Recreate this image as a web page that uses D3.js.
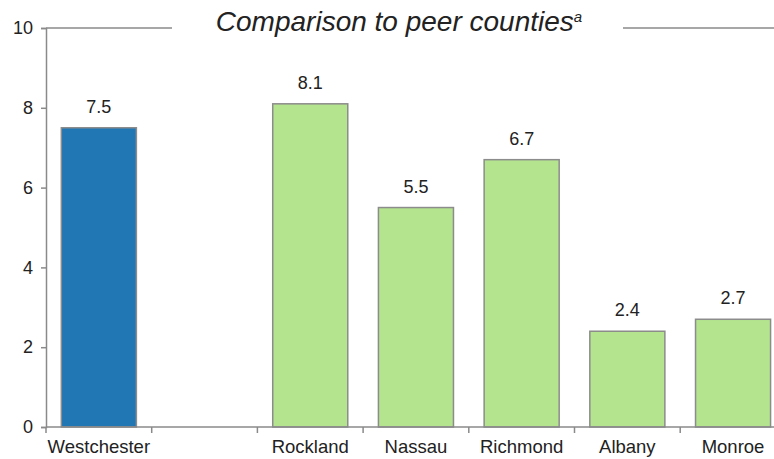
<!DOCTYPE html>
<html>
<head>
<meta charset="utf-8">
<script src="https://cdn.jsdelivr.net/npm/d3@7"></script>
<style>
  html, body { margin: 0; padding: 0; background: #fff; }
  svg { display: block; font-family: "Liberation Sans", Arial, sans-serif; }
</style>
</head>
<body>
<svg id="chart" width="774" height="459"></svg>
<script>
// County values; the empty category leaves a gap after Westchester
const categories = ["Westchester", "", "Rockland", "Nassau", "Richmond", "Albany", "Monroe"];
const values = [7.5, null, 8.1, 5.5, 6.7, 2.4, 2.7];
const yTicks = [0, 2, 4, 6, 8, 10];
const titleText = "Comparison to peer counties";
const titleNote = "a";

const svg = d3.select("#chart");
const plotLeft = 46, plotTop = 28, plotBottom = 427;
const step = 105.7;

const x = d3.scaleBand()
  .domain(categories.map((c, i) => i))
  .range([plotLeft, plotLeft + step * categories.length])
  .paddingInner(0.29)
  .paddingOuter(0.145);

const y = d3.scaleLinear().domain([0, 10]).range([plotBottom, plotTop]);

const axisColor = "#8a8a8a";
const textColor = "#222";

// Top reference line at 10, broken around the title
svg.append("line")
  .attr("x1", plotLeft).attr("x2", 172)
  .attr("y1", y(10)).attr("y2", y(10))
  .attr("stroke", axisColor).attr("stroke-width", 1.5);
svg.append("line")
  .attr("x1", 623).attr("x2", 774)
  .attr("y1", y(10)).attr("y2", y(10))
  .attr("stroke", axisColor).attr("stroke-width", 1.5);

// Title with footnote marker
const title = svg.append("text")
  .attr("x", 399).attr("y", 31)
  .attr("text-anchor", "middle")
  .attr("font-style", "italic")
  .attr("font-size", 28)
  .attr("fill", textColor)
  .text(titleText);
title.append("tspan")
  .attr("dy", -9)
  .attr("font-size", 15)
  .text(titleNote);

// Bars
svg.append("g").selectAll("rect")
  .data(values.map((v, i) => ({ v, i })).filter(d => d.v != null))
  .join("rect")
  .attr("x", d => x(d.i))
  .attr("width", x.bandwidth())
  .attr("y", d => y(d.v))
  .attr("height", d => y(0) - y(d.v))
  .attr("fill", d => d.i === 0 ? "#2077b4" : "#b4e48e")
  .attr("stroke", "#8c8c8c")
  .attr("stroke-width", 1.5);

// Value labels
svg.append("g").selectAll("text")
  .data(values.map((v, i) => ({ v, i })).filter(d => d.v != null))
  .join("text")
  .attr("x", d => x(d.i) + x.bandwidth() / 2)
  .attr("y", d => y(d.v) - 15)
  .attr("text-anchor", "middle")
  .attr("font-size", 18)
  .attr("fill", textColor)
  .text(d => d.v.toFixed(1));

// Y axis
const yAxis = svg.append("g")
  .attr("transform", `translate(${plotLeft},0)`)
  .call(d3.axisLeft(y).tickValues(yTicks).tickSize(5).tickPadding(8).tickFormat(d3.format("d")));
yAxis.select(".domain").attr("stroke", axisColor).attr("stroke-width", 1.5);
yAxis.selectAll(".tick line").attr("stroke", axisColor).attr("stroke-width", 1.5);
yAxis.selectAll(".tick text")
  .attr("font-size", 18).attr("fill", textColor)
  .attr("font-family", "Liberation Sans, Arial, sans-serif");

// X axis baseline with ticks at category boundaries
svg.append("line")
  .attr("x1", plotLeft).attr("x2", 774)
  .attr("y1", plotBottom).attr("y2", plotBottom)
  .attr("stroke", axisColor).attr("stroke-width", 1.5);
svg.append("g").selectAll("line")
  .data(d3.range(categories.length))
  .join("line")
  .attr("x1", i => x.range()[0] + i * x.step())
  .attr("x2", i => x.range()[0] + i * x.step())
  .attr("y1", plotBottom).attr("y2", plotBottom + 6)
  .attr("stroke", axisColor).attr("stroke-width", 1.5);

// Category labels
svg.append("g").selectAll("text")
  .data(categories.map((c, i) => ({ c, i })).filter(d => d.c))
  .join("text")
  .attr("x", d => x(d.i) + x.bandwidth() / 2)
  .attr("y", 453)
  .attr("text-anchor", "middle")
  .attr("font-size", 18.5)
  .attr("fill", textColor)
  .text(d => d.c);
</script>
</body>
</html>
